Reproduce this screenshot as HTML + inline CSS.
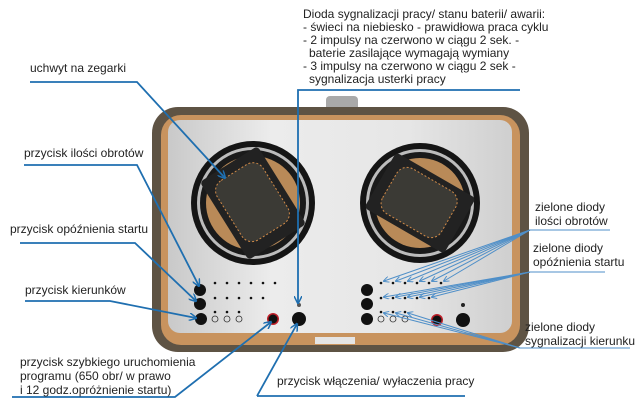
<!DOCTYPE html>
<html><head><meta charset="utf-8"><style>
html,body{margin:0;padding:0;background:#fff;}
svg{display:block;font-family:"Liberation Sans",Arial,sans-serif;}
</style></head><body>
<svg width="640" height="413" viewBox="0 0 640 413" xmlns="http://www.w3.org/2000/svg">
<defs>
<linearGradient id="sil" x1="0" x2="1" y1="0" y2="0">
<stop offset="0" stop-color="#c9c9c9"/><stop offset="0.3" stop-color="#ececec"/><stop offset="0.7" stop-color="#e6e6e6"/><stop offset="1" stop-color="#cfcfcf"/></linearGradient>
<marker id="ar" markerWidth="8" markerHeight="8" refX="7" refY="4" orient="auto" markerUnits="userSpaceOnUse"><path d="M0,0 L8,4 L0,8" fill="none" stroke="#1f6fb0" stroke-width="1.5"/></marker>
<marker id="as" markerWidth="6" markerHeight="6" refX="5" refY="3" orient="auto" markerUnits="userSpaceOnUse"><path d="M0,0 L6,3 L0,6" fill="none" stroke="#4f8fc8" stroke-width="1"/></marker>
</defs>
<rect x="326" y="96" width="32" height="16" rx="4" fill="#a9a9a9"/>
<rect x="152" y="107" width="377" height="245" rx="26" fill="#5e5344"/>
<rect x="161" y="115" width="359" height="230" rx="20" fill="#c8935e"/>
<rect x="168" y="120" width="344" height="213" rx="12" fill="url(#sil)"/>
<rect x="315" y="337" width="40" height="7" fill="#e4e4e4"/>
<g transform="translate(253,203)">
<circle r="62" fill="#151515"/><circle r="56" fill="#bcbcbc"/><circle r="53" fill="#1a1a1a"/><circle r="47" fill="#b98a58"/>
<g transform="rotate(-32)"><rect x="-34" y="-46" width="68" height="92" rx="4" fill="#222"/><rect x="-27" y="-36" width="54" height="70" rx="12" fill="#3b3a35" stroke="#d08a48" stroke-dasharray="2 2" stroke-width="1"/></g>
</g>
<g transform="translate(420,203)">
<circle r="60" fill="#151515"/><circle r="54" fill="#bcbcbc"/><circle r="51" fill="#1a1a1a"/><circle r="45" fill="#b98a58"/>
<g transform="rotate(-60)"><rect x="-32" y="-46" width="64" height="92" rx="4" fill="#222"/><rect x="-26" y="-35" width="52" height="68" rx="12" fill="#3b3a35" stroke="#d08a48" stroke-dasharray="2 2" stroke-width="1"/></g>
</g>
<g fill="#111">
<circle cx="200" cy="290" r="6"/><circle cx="200" cy="304" r="6"/><circle cx="201" cy="319" r="6"/>
<circle cx="367" cy="290" r="6"/><circle cx="367" cy="304" r="6"/><circle cx="367" cy="319" r="6"/>
<circle cx="299" cy="319" r="7"/><circle cx="463" cy="320" r="7"/>
</g>
<circle cx="273" cy="319" r="6" fill="#c0202a"/><circle cx="273" cy="319" r="4.5" fill="#111"/>
<circle cx="437" cy="320" r="6" fill="#c0202a"/><circle cx="437" cy="320" r="4.5" fill="#111"/>
<circle cx="299" cy="305" r="2" fill="#555"/><circle cx="463" cy="305" r="2" fill="#222"/>
<g fill="#111">
<circle cx="215" cy="283" r="1.3"/><circle cx="227" cy="283" r="1.3"/><circle cx="239" cy="283" r="1.3"/><circle cx="251" cy="283" r="1.3"/><circle cx="263" cy="283" r="1.3"/><circle cx="275" cy="283" r="1.3"/>
<circle cx="215" cy="298" r="1.3"/><circle cx="227" cy="298" r="1.3"/><circle cx="239" cy="298" r="1.3"/><circle cx="251" cy="298" r="1.3"/><circle cx="263" cy="298" r="1.3"/>
<circle cx="215" cy="312" r="1.3"/><circle cx="227" cy="312" r="1.3"/><circle cx="239" cy="312" r="1.3"/>
<circle cx="381" cy="283" r="1.3"/><circle cx="393" cy="283" r="1.3"/><circle cx="405" cy="283" r="1.3"/><circle cx="417" cy="283" r="1.3"/><circle cx="429" cy="283" r="1.3"/><circle cx="441" cy="283" r="1.3"/>
<circle cx="381" cy="298" r="1.3"/><circle cx="393" cy="298" r="1.3"/><circle cx="405" cy="298" r="1.3"/><circle cx="417" cy="298" r="1.3"/><circle cx="429" cy="298" r="1.3"/>
<circle cx="381" cy="312" r="1.3"/><circle cx="393" cy="312" r="1.3"/><circle cx="405" cy="312" r="1.3"/>
</g>
<g fill="none" stroke="#333" stroke-width="0.8">
<circle cx="215" cy="319" r="3"/><circle cx="227" cy="319" r="3"/><circle cx="239" cy="319" r="3"/>
<circle cx="381" cy="319" r="3"/><circle cx="393" cy="319" r="3"/><circle cx="405" cy="319" r="3"/>
</g>
<g fill="none" stroke="#1f6fb0" stroke-width="1.8">
<polyline points="30,82 137,82 225,178" marker-end="url(#ar)"/>
<polyline points="24,165 137,165 199,286" marker-end="url(#ar)"/>
<polyline points="20,243 135,243 196,301" marker-end="url(#ar)"/>
<polyline points="25,301 110,301 196,318" marker-end="url(#ar)"/>
<polyline points="12,397 175,397 271,322" marker-end="url(#ar)"/>
<polyline points="257,396 465,396" />
<polyline points="257,396 297,324" marker-end="url(#ar)"/>
<polyline points="520,90 298,90 298,303" marker-end="url(#ar)"/>
</g>
<g fill="none" stroke="#4f8fc8" stroke-width="1">
<polyline points="610,230 530,230"/>
<line x1="530" y1="230" x2="384" y2="281" marker-end="url(#as)"/>
<line x1="530" y1="230" x2="396" y2="281" marker-end="url(#as)"/>
<line x1="530" y1="230" x2="408" y2="281" marker-end="url(#as)"/>
<line x1="530" y1="230" x2="420" y2="281" marker-end="url(#as)"/>
<line x1="530" y1="230" x2="432" y2="281" marker-end="url(#as)"/>
<line x1="530" y1="230" x2="444" y2="281" marker-end="url(#as)"/>
<polyline points="605,272 530,272"/>
<line x1="530" y1="272" x2="384" y2="297" marker-end="url(#as)"/>
<line x1="530" y1="272" x2="396" y2="297" marker-end="url(#as)"/>
<line x1="530" y1="272" x2="408" y2="297" marker-end="url(#as)"/>
<line x1="530" y1="272" x2="420" y2="297" marker-end="url(#as)"/>
<line x1="530" y1="272" x2="432" y2="297" marker-end="url(#as)"/>
<polyline points="630,348 520,348"/>
<line x1="520" y1="348" x2="384" y2="313" marker-end="url(#as)"/>
<line x1="520" y1="348" x2="396" y2="313" marker-end="url(#as)"/>
<line x1="520" y1="348" x2="408" y2="313" marker-end="url(#as)"/>
</g>
<g font-size="12" fill="#222">
<text x="303" y="18">Dioda sygnalizacji pracy/ stanu baterii/ awarii:</text>
<text x="303" y="31">- świeci na niebiesko - prawidłowa praca cyklu</text>
<text x="303" y="44">- 2 impulsy na czerwono w ciągu 2 sek. -</text>
<text x="309" y="57">baterie zasilające wymagają wymiany</text>
<text x="303" y="70">- 3 impulsy na czerwono w ciągu 2 sek -</text>
<text x="309" y="83">sygnalizacja usterki pracy</text>
<text x="30" y="72">uchwyt na zegarki</text>
<text x="24" y="157">przycisk ilości obrotów</text>
<text x="10" y="233">przycisk opóźnienia startu</text>
<text x="25" y="294">przycisk kierunków</text>
<text x="20" y="366">przycisk szybkiego uruchomienia</text>
<text x="20" y="380">programu (650 obr/ w prawo</text>
<text x="20" y="394">i 12 godz.opróżnienie startu)</text>
<text x="277" y="385">przycisk włączenia/ wyłaczenia pracy</text>
<text x="535" y="211">zielone diody</text>
<text x="535" y="225">ilości obrotów</text>
<text x="533" y="252">zielone diody</text>
<text x="533" y="266">opóźnienia startu</text>
<text x="525" y="331">zielone diody</text>
<text x="525" y="345">sygnalizacji kierunku</text>
</g>
</svg>
</body></html>
